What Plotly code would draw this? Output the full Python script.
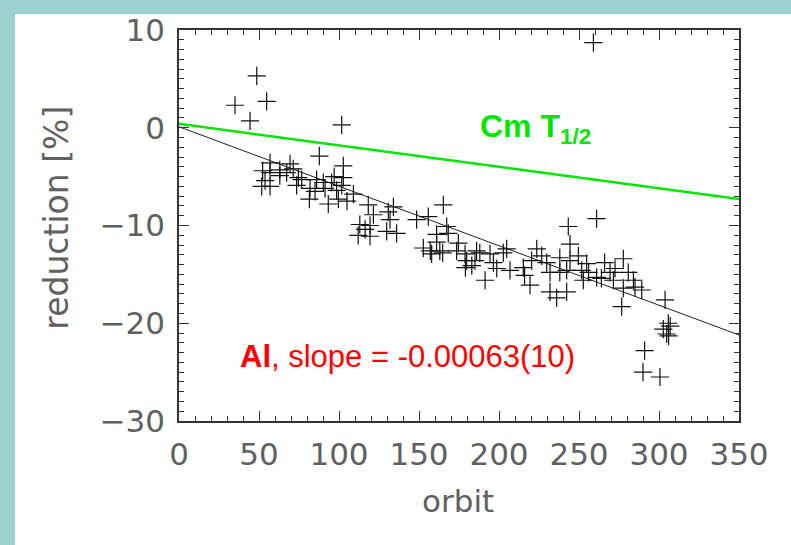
import plotly.graph_objects as go

# Data
orbit = [48.6, 35, 54.8, 44.4, 101.7, 87.7, 102.7, 56.9, 52.3, 56.9, 53.8, 51.7, 56.9,
         63, 69.4, 71.4, 67.3, 74.6, 76.7, 73.5, 81.9, 81.5, 86, 90.2, 91.3, 93.3, 95.4,
         98.5, 99.6, 102.7, 105, 101.7, 109, 118.3, 134, 130.8, 121.5, 131.9, 113, 119.4,
         116.3, 112, 119.4, 129.8, 136, 148.5, 155.8, 165.2, 167.3, 161, 168.3, 161, 152.7,
         157, 157.9, 163, 164.8, 174.6, 173.5, 178.8, 179.8, 183, 179, 186, 261, 243.3,
         244.4, 188, 185, 194.4, 196.5, 202.7, 204.8, 198.6, 191.3, 206.9, 215.2, 216,
         219.4, 223.6, 226.7, 220.4, 229.8, 231.9, 238, 238, 242.3, 244.4, 249.6, 231.9,
         236, 242.3, 251.7, 254.8, 256, 252.7, 261, 266, 277.7, 272.5, 269.4, 264, 271.5,
         280.8, 284, 277.7, 285, 289.2, 303.8, 276.7, 305.8, 302.7, 304.8, 291, 290, 300.6,
         259, 307, 306, 63, 85, 97]
reduction = [5.3, 2.3, 2.7, 0.7, 0.3, -2.9, -3.9, -3.6, -4.4, -4.6, -5.4, -6.0, -6.0,
             -4.9, -3.7, -4.2, -4.6, -5.1, -5.3, -5.9, -6.2, -7.3, -5.3, -5.6, -6.2, -7.8, -5.6,
             -6.4, -7.3, -5.1, -7.5, -5.9, -6.8, -7.9, -8.1, -8.6, -8.9, -9.4, -9.9, -10.0,
             -10.4, -11.0, -11.1, -10.6, -10.8, -9.4, -9.1, -7.9, -10.1, -10.9, -10.8, -11.7, -12.3,
             -12.6, -12.9, -12.6, -12.8, -11.8, -12.6, -12.9, -13.6, -14.1, -14.3, -12.6, -9.3, -10.1,
             -11.9, -12.8, -13.6, -12.9, -13.8, -12.8, -12.4, -14.4, -15.6, -14.6, -14.3, -15.1,
             -16.1, -12.4, -13.1, -13.6, -13.8, -14.8, -13.3, -14.8, -14.6, -13.6, -13.1, -16.8,
             -17.4, -16.8, -14.6, -13.9, -14.8, -15.6, -15.3, -13.8, -13.4, -14.4, -14.8, -15.4, -15.6,
             -14.8, -15.6, -16.4, -16.3, -16.6, -17.6, -18.3, -20.0, -20.6, -21.1, -22.8, -25.0, -25.5,
             8.7, -20.3, -21.3, -4.3, -6.5, -5.0]

fit_x = [0, 350]
fit_y = [0.1, -21.2]
cm_x = [0, 350]
cm_y = [0.4, -7.3]

x_ticks = [0, 50, 100, 150, 200, 250, 300, 350]
y_ticks = [-30, -20, -10, 0, 10]

W, H = 791, 545
ML, MR, MT, MB = 179, 52, 21, 124
PW, PH = W - ML - MR, H - MT - MB

LABEL_FONT = "DejaVu Sans"
GREY = "#606060"

fig = go.Figure()
fig.add_trace(go.Scatter(x=fit_x, y=fit_y, mode="lines",
                         line=dict(color="#222", width=1), hoverinfo="skip"))
fig.add_trace(go.Scatter(x=cm_x, y=cm_y, mode="lines",
                         line=dict(color="#00e400", width=2.5), hoverinfo="skip"))
fig.add_trace(go.Scatter(x=orbit, y=reduction, mode="markers",
                         marker=dict(symbol="cross-thin", size=13,
                                     line=dict(color="#111", width=1.2))))

axis_common = dict(
    showgrid=False, zeroline=False, showline=True, linecolor="#333", linewidth=1.5,
    mirror="allticks", ticks="inside", ticklen=10, tickwidth=1, tickcolor="#333",
    tickfont=dict(family=LABEL_FONT, size=31, color=GREY),
)

fig.update_xaxes(range=[0, 350], tickvals=x_ticks, ticktext=[str(v) for v in x_ticks],
                 minor=dict(dtick=10, tick0=0, ticks="inside", ticklen=5, tickcolor="#333"),
                 ticklabelstandoff=5, **axis_common)
fig.update_yaxes(range=[-30, 10], tickvals=y_ticks,
                 ticktext=[("\u2212" + str(-v)) if v < 0 else str(v) for v in y_ticks],
                 minor=dict(dtick=1, tick0=0, ticks="inside", ticklen=5, tickcolor="#333"),
                 ticklabelstandoff=6, **axis_common)

# axis titles placed as annotations to match reference positions
fig.add_annotation(x=(57 - ML) / PW, y=(PH + MT - 213) / PH, xref="paper", yref="paper",
                   text="reduction [%]", textangle=-90, showarrow=False,
                   xanchor="center", yanchor="middle",
                   font=dict(family=LABEL_FONT, size=33, color=GREY))
fig.add_annotation(x=(458 - ML) / PW, y=(PH + MT - 503) / PH, xref="paper", yref="paper",
                   text="orbit", showarrow=False, xanchor="center", yanchor="middle",
                   font=dict(family=LABEL_FONT, size=31, color=GREY))

# white slide area over teal border
fig.add_shape(type="rect", xref="paper", yref="paper",
              x0=(15 - ML) / PW, x1=(W - ML) / PW + 0.01,
              y0=-(MB + 5) / PH, y1=(PH + MT - 5) / PH,
              fillcolor="white", line=dict(width=0), layer="below")

fig.add_annotation(x=187, y=-0.1, xref="x", yref="y", xanchor="left", yanchor="middle",
                   text="<b>Cm T<sub>1/2</sub></b>", showarrow=False,
                   font=dict(family="Liberation Sans", size=32, color="#00e400"))
fig.add_annotation(x=37, y=-23.4, xref="x", yref="y", xanchor="left", yanchor="middle",
                   text="<b>Al</b>, slope = -0.00063(10)", showarrow=False,
                   font=dict(family="Liberation Sans", size=31, color="#ff0000"))

fig.update_layout(width=W, height=H, margin=dict(l=ML, r=MR, t=MT, b=MB),
                  paper_bgcolor="#9dd0d1", plot_bgcolor="white", showlegend=False)

fig.write_html("out.html")
